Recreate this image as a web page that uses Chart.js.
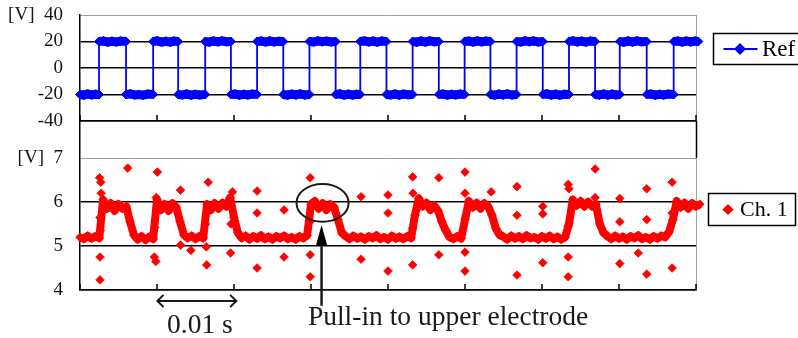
<!DOCTYPE html>
<html><head><meta charset="utf-8">
<script src="https://cdn.jsdelivr.net/npm/chart.js@4.4.1/dist/chart.umd.min.js"></script>
<style>
html,body{margin:0;padding:0;background:#fff;}
#wrap{position:relative;width:798px;height:338px;overflow:hidden;background:#fff;}
#c1{position:absolute;left:0;top:0;width:798px;height:140px;}
#c2{position:absolute;left:0;top:115px;width:798px;height:223px;}
</style></head><body>
<div id="wrap"><canvas id="c1" width="798" height="140"></canvas><canvas id="c2" width="798" height="223"></canvas></div>
<script>
// ---- data (time in ms) ----
const timeTicks = [0,10,20,30,40,50,60,70,80];
const refTicks = [-40,-20,0,20,40];
const ch1Ticks = [4,5,6,7];

const refT = [
 0,0.5,1.0,1.5,2.0,2.47,
 2.47,3.05,3.6,4.15,4.7,5.25,5.98,
 5.98,6.55,7.1,7.65,8.2,8.8,9.5,
 9.5,10.05,10.6,11.15,11.7,12.2,12.75,
 12.75,13.3,13.85,14.4,14.95,15.55,16.26,
 16.26,16.8,17.35,17.9,18.45,19.0,19.6,
 19.6,20.15,20.7,21.25,21.8,22.4,23.0,
 23.0,23.55,24.1,24.65,25.2,25.8,26.4,
 26.4,26.95,27.5,28.05,28.6,29.2,29.8,
 29.8,30.35,30.9,31.45,32.0,32.6,33.2,
 33.2,33.75,34.3,34.85,35.4,35.9,36.4,
 36.4,36.95,37.5,38.05,38.6,39.2,39.8,
 39.8,40.35,40.9,41.45,42.0,42.6,43.2,
 43.2,43.75,44.3,44.85,45.4,46.0,46.6,
 46.6,47.15,47.7,48.25,48.8,49.4,49.95,
 49.95,50.5,51.05,51.6,52.15,52.7,53.3,
 53.3,53.85,54.4,54.95,55.5,56.1,56.7,
 56.7,57.25,57.8,58.35,58.9,59.5,60.1,
 60.1,60.65,61.2,61.75,62.3,62.9,63.5,
 63.5,64.05,64.6,65.15,65.7,66.3,66.9,
 66.9,67.45,68.0,68.55,69.1,69.6,70.1,
 70.1,70.65,71.2,71.75,72.3,72.9,73.6,
 73.6,74.15,74.7,75.25,75.8,76.4,77.1,
 77.1,77.65,78.2,78.75,79.3,79.85,80.3,
 80.6
];
const refV = [
 -20,-20.5,-19.6,-20.3,-19.8,-20,
 20,20.4,19.5,20.2,19.6,20.3,20,
 -20,-19.5,-20.4,-20,-20.5,-19.7,-20,
 20,20.5,19.6,20.2,19.5,20.3,20,
 -20,-20.4,-19.6,-20.5,-19.8,-20.3,-20,
 20,19.5,20.4,19.7,20.5,19.8,20,
 -20,-19.6,-20.5,-19.8,-20.4,-19.7,-20,
 20,20.4,19.6,20.5,19.7,20.2,20,
 -20,-20.5,-19.7,-20.3,-19.5,-20.4,-20,
 20,19.6,20.5,19.8,20.3,19.6,20,
 -20,-19.5,-20.4,-19.7,-20.5,-19.8,-20,
 20,20.5,19.7,20.3,19.5,20.4,20,
 -20,-20.4,-19.6,-20.5,-19.7,-20.2,-20,
 20,19.5,20.4,19.6,20.5,19.8,20,
 -20,-19.6,-20.5,-19.8,-20.3,-19.6,-20,
 20,20.4,19.6,20.5,19.7,20.3,20,
 -20,-20.5,-19.7,-20.3,-19.5,-20.4,-20,
 20,19.6,20.5,19.8,20.4,19.6,20,
 -20,-19.5,-20.4,-19.7,-20.5,-19.8,-20,
 20,20.5,19.7,20.3,19.5,20.4,20,
 -20,-20.4,-19.6,-20.5,-19.7,-20.3,-20,
 20,19.5,20.4,19.6,20.5,19.8,20,
 -20,-19.6,-20.5,-19.8,-20.4,-19.7,-20,
 20,20.4,19.6,20.5,19.7,20.3,20,
 -20
];

// Ch. 1 continuous trace samples
const ch1BandT = [
 0,0.5,1,1.5,2,2.5,
 3,3.5,4,4.5,5,5.5,6,6.5,7,
 7.5,8,8.5,9,9.5,
 10,10.5,11,11.5,12,12.5,13,13.5,
 14,14.5,15,15.5,16,
 16.5,17,17.5,18,18.5,19,19.5,20,20.5,
 21,21.5,22,22.5,23,23.5,24,24.5,25,25.5,26,26.5,27,27.5,28,28.5,29,29.5,
 30,30.5,31,31.5,32,32.5,33,33.5,34,
 34.5,35,35.5,36,36.5,37,37.5,38,38.5,39,39.5,40,40.5,41,41.5,42,42.5,43,
 43.5,44,44.5,45,45.5,46,46.5,47,47.5,48,
 48.5,49,49.5,
 50,50.5,51,51.5,52,52.5,53,53.5,54,54.5,
 55,55.5,56,56.5,57,57.5,58,58.5,59,59.5,60,60.5,61,61.5,62,62.5,63,
 63.5,64,64.5,65,65.5,66,66.5,67,67.5,68,
 68.5,69,69.5,70,70.5,71,71.5,72,72.5,73,73.5,74,74.5,75,75.5,76,76.5,
 77,77.5,78,78.5,79,79.5,80,80.5
];
const ch1BandV = [
 5.2,5.16,5.23,5.17,5.22,5.18,
 6.05,5.85,5.97,5.8,5.95,5.85,5.9,5.55,5.25,
 5.15,5.22,5.14,5.21,5.16,
 6.05,5.82,5.95,5.8,5.97,5.88,5.55,5.25,
 5.18,5.23,5.16,5.22,5.18,
 5.95,5.82,5.97,5.85,5.98,5.9,6.1,5.65,5.3,
 5.18,5.23,5.15,5.22,5.17,5.24,5.16,5.21,5.15,5.22,5.18,5.23,5.16,5.2,5.15,5.22,5.18,5.24,
 5.95,6.02,5.85,5.97,5.82,5.95,5.88,5.6,5.3,
 5.22,5.16,5.23,5.17,5.21,5.15,5.22,5.18,5.24,5.16,5.2,5.15,5.23,5.17,5.21,5.16,5.22,5.18,
 5.7,6.08,5.9,5.98,5.82,5.92,5.8,5.55,5.35,5.2,
 5.16,5.22,5.17,
 5.6,6.02,5.88,5.98,5.85,5.97,5.9,5.7,5.4,5.25,
 5.21,5.15,5.23,5.17,5.22,5.16,5.24,5.18,5.2,5.15,5.22,5.17,5.23,5.16,5.21,5.15,5.2,
 5.5,6.05,5.92,6.02,5.9,6.0,5.9,5.95,5.5,5.3,
 5.22,5.16,5.23,5.17,5.21,5.15,5.22,5.18,5.24,5.16,5.2,5.15,5.22,5.17,5.23,5.2,5.32,
 5.6,6.02,5.88,5.98,5.85,5.97,5.9,5.95
];
// Ch. 1 isolated spike samples around the switching instants
const ch1SpikeT = [
 2.55,2.7,2.75,2.6,2.65,2.6,2.6,
 6.2,
 9.7,9.65,9.9,9.85,10.05,
 13.05,13.05,14.4,
 16.45,16.4,16.65,16.3,
 19.55,19.6,19.8,
 23.0,23.0,23.0,
 26.5,26.5,
 29.9,29.9,29.9,29.85,
 36.5,36.5,
 40.0,40.0,40.0,
 43.2,43.25,43.2,43.2,
 46.6,46.6,
 50.0,50.0,50.0,50.0,
 53.4,
 56.75,56.75,56.75,
 60.1,60.1,60.1,
 63.4,63.5,63.4,63.4,63.4,
 66.9,66.9,
 70.1,70.1,70.1,
 72.5,
 73.6,73.6,73.6,
 76.9,76.9,76.9
];
const ch1SpikeV = [
 6.55,6.45,6.2,5.65,5.35,4.75,4.23,
 6.77,
 5.42,4.75,6.1,4.65,6.68,
 6.27,5.02,4.9,
 4.57,4.98,6.45,5.5,
 4.84,5.5,6.23,
 6.25,5.75,4.5,
 5.82,4.75,
 6.55,4.8,4.3,5.55,
 6.12,4.7,
 6.16,5.75,4.43,
 6.57,6.2,5.4,4.57,
 6.55,4.8,
 6.68,6.2,4.86,4.43,
 6.23,
 6.35,5.7,4.34,
 5.9,5.73,4.62,
 6.4,6.3,5.45,4.75,4.3,
 6.75,6.1,
 6.08,5.55,4.6,
 4.84,
 6.3,5.6,4.36,
 6.45,5.75,4.5
];

// annotations (data units)
const ellipseNote = {t:31.5, v:5.98, dt:3.38, dv:0.43};
const pullArrow = {t:31.37, from:3.64, base:5.02, tip:5.48, halfT:0.71};
const spanArrow = {from:10.05, to:20.3, v:3.75, headT:0.8, headV:0.14};
const notes = [
  {text:'0.01 s', t:15.58, v:3.02, align:'center'},
  {text:'Pull-in to upper electrode', t:29.6, v:3.205, align:'left'}
];

const BLUE = '#0000ff', RED = '#ff0000', GRID = '#000', FRAME = '#a0a0a0';
const CLEAR = 'rgba(0,0,0,0)';
const SERIF = '"Liberation Serif", "Times New Roman", serif';

function pts(T, V){ return T.map((t,i)=>({x:t, y:V[i]})); }
// same samples, with a break (null) wherever the level switches sign
function plateauPts(T, V){
  const out = [];
  T.forEach((t,i)=>{
    if (i > 0 && Math.sign(V[i]) !== Math.sign(V[i-1])) out.push({x:t, y:null});
    out.push({x:t, y:V[i]});
  });
  return out;
}

function drawInwardTicks(c){
  const {ctx, chartArea:a, scales:{x}} = c;
  ctx.save();
  ctx.strokeStyle = '#000'; ctx.lineWidth = 1.5;
  timeTicks.forEach(v=>{
    const px = Math.round(x.getPixelForValue(v));
    ctx.beginPath(); ctx.moveTo(px, a.bottom); ctx.lineTo(px, a.bottom-6); ctx.stroke();
  });
  ctx.restore();
}

function drawLegendBox(ctx, box, ds, text, fontSize, withLine){
  ctx.save();
  ctx.strokeStyle = '#000'; ctx.lineWidth = 1.5;
  ctx.strokeRect(box.x, box.y, box.w, box.h);
  const cy = box.y + box.h/2;
  if (withLine){
    ctx.strokeStyle = ds.borderColor; ctx.lineWidth = 2;
    ctx.beginPath(); ctx.moveTo(box.x+10, cy); ctx.lineTo(box.x+44, cy); ctx.stroke();
  }
  ctx.fillStyle = ds.backgroundColor; ctx.strokeStyle = ds.borderColor;
  Chart.helpers.drawPoint(ctx, {pointStyle:'rectRot', radius:4.5, borderWidth:1}, box.mx, cy);
  ctx.fillStyle = '#000';
  ctx.font = fontSize + 'px ' + SERIF;
  ctx.textBaseline = 'middle'; ctx.textAlign = 'left';
  ctx.fillText(text, box.tx, cy + 1);
  ctx.restore();
}

const topPlugin = {
  id:'topDeco',
  beforeDatasetsDraw(c){
    const {ctx, chartArea:a} = c;
    ctx.save(); ctx.strokeStyle = FRAME; ctx.lineWidth = 1;
    const rx = Math.round(a.right)+0.5;
    ctx.beginPath(); ctx.moveTo(rx, a.top); ctx.lineTo(rx, a.bottom); ctx.stroke();
    ctx.restore();
    drawInwardTicks(c);
  },
  afterDraw(c){
    const ds = c.data.datasets[0];
    drawLegendBox(c.ctx, {x:713.5, y:33.5, w:120, h:31, mx:740, tx:762}, ds, 'Ref', 23, true);
  }
};

const botPlugin = {
  id:'botDeco',
  beforeDatasetsDraw(c){
    const {ctx, chartArea:a, scales:{y}} = c;
    const rx = Math.round(a.right)+0.5;
    const y7 = y.getPixelForValue(ch1Ticks[ch1Ticks.length-1]);
    ctx.save();
    ctx.lineWidth = 1.5; ctx.strokeStyle = '#000';
    ctx.beginPath(); ctx.moveTo(rx, a.top); ctx.lineTo(rx, y7); ctx.stroke();
    ctx.lineWidth = 1; ctx.strokeStyle = FRAME;
    ctx.beginPath(); ctx.moveTo(rx, y7); ctx.lineTo(rx, a.bottom); ctx.stroke();
    ctx.restore();
    drawInwardTicks(c);
  },
  afterDraw(c){
    const {ctx, scales:{x, y}} = c;
    ctx.save();
    ctx.strokeStyle = '#1a1a1a'; ctx.fillStyle = '#000';
    ctx.lineWidth = 2;
    const ex = x.getPixelForValue(ellipseNote.t), ey = y.getPixelForValue(ellipseNote.v);
    const erx = x.getPixelForValue(ellipseNote.t + ellipseNote.dt) - ex;
    const ery = ey - y.getPixelForValue(ellipseNote.v + ellipseNote.dv);
    ctx.beginPath(); ctx.ellipse(ex, ey, erx, ery, 0, 0, Math.PI*2); ctx.stroke();
    const ax = x.getPixelForValue(pullArrow.t);
    ctx.lineWidth = 2.5;
    ctx.beginPath(); ctx.moveTo(ax, y.getPixelForValue(pullArrow.from)); ctx.lineTo(ax, y.getPixelForValue(pullArrow.base)+1); ctx.stroke();
    const hw = x.getPixelForValue(pullArrow.t + pullArrow.halfT) - ax;
    ctx.beginPath();
    ctx.moveTo(ax, y.getPixelForValue(pullArrow.tip));
    ctx.lineTo(ax - hw, y.getPixelForValue(pullArrow.base));
    ctx.lineTo(ax + hw, y.getPixelForValue(pullArrow.base));
    ctx.closePath(); ctx.fill();
    const sy = y.getPixelForValue(spanArrow.v);
    const sx1 = x.getPixelForValue(spanArrow.from), sx2 = x.getPixelForValue(spanArrow.to);
    const hx = x.getPixelForValue(spanArrow.from + spanArrow.headT) - sx1;
    const hy = sy - y.getPixelForValue(spanArrow.v + spanArrow.headV);
    ctx.lineWidth = 2;
    ctx.beginPath(); ctx.moveTo(sx1, sy); ctx.lineTo(sx2, sy); ctx.stroke();
    ctx.beginPath(); ctx.moveTo(sx1+hx, sy-hy); ctx.lineTo(sx1, sy); ctx.lineTo(sx1+hx, sy+hy); ctx.stroke();
    ctx.beginPath(); ctx.moveTo(sx2-hx, sy-hy); ctx.lineTo(sx2, sy); ctx.lineTo(sx2-hx, sy+hy); ctx.stroke();
    ctx.fillStyle = '#1a1a1a';
    ctx.font = '27.5px ' + SERIF; ctx.textBaseline = 'alphabetic';
    notes.forEach(n=>{
      ctx.textAlign = n.align;
      ctx.fillText(n.text, x.getPixelForValue(n.t), y.getPixelForValue(n.v));
    });
    ctx.restore();
    const ds = c.data.datasets[0];
    drawLegendBox(ctx, {x:708.5, y:78.5, w:87, h:32, mx:728, tx:740}, ds, 'Ch. 1', 22, false);
  }
};

function yAxis(min, max, ticksArr, topLabel){
  return {
    type:'linear', min, max,
    afterBuildTicks(s){ s.ticks = ticksArr.map(v=>({value:v})); },
    afterFit(s){ s.width = 80; s.paddingTop = 0; s.paddingBottom = 0; },
    ticks:{
      callback:(v)=> v === topLabel ? '[V]  ' + v : String(v),
      font:{family:SERIF, size:19}, color:'#151515', padding:17
    },
    grid:{ color:(ctx)=> (ctx.tick && ctx.tick.value === topLabel) ? FRAME : GRID,
           lineWidth:(ctx)=> (ctx.tick && ctx.tick.value === topLabel) ? 1 : 1.5,
           drawTicks:false },
    border:{ color:'#000', width:1.5 }
  };
}
function xAxis(){
  return {
    type:'linear', min:timeTicks[0], max:timeTicks[timeTicks.length-1],
    afterFit(s){ s.height = 0; s.paddingLeft = 0; s.paddingRight = 0; },
    ticks:{ display:false },
    grid:{ drawOnChartArea:false, drawTicks:false },
    border:{ color:'#000', width:1.5 }
  };
}

new Chart(document.getElementById('c1'), {
  type:'scatter',
  data:{ datasets:[
    { // Ref trace: thin connecting line with diamond markers
      label:'Ref', data:pts(refT, refV), showLine:true,
      borderColor:BLUE, backgroundColor:BLUE, borderWidth:1.8,
      pointStyle:'rectRot', pointBorderWidth:1,
      pointRadius:(ctx)=> ctx.dataIndex === refT.length-1 ? 0 : 4.5,
      tension:0, clip:false
    },
    { // the same Ref samples as the dense band of overlapping markers on each level
      label:'Ref band', data:plateauPts(refT, refV), showLine:true, spanGaps:false,
      borderColor:BLUE, backgroundColor:BLUE, borderWidth:9, borderCapStyle:'butt',
      pointRadius:0, tension:0, clip:false
    }
  ]},
  options:{
    responsive:false, animation:false, events:[],
    layout:{ padding:{ left:0, right:102, top:15, bottom:19 } },
    plugins:{ legend:{display:false}, tooltip:{enabled:false} },
    scales:{ x:xAxis(), y:yAxis(-40, 40, refTicks, 40) }
  },
  plugins:[topPlugin]
});

const bandCount = ch1BandT.length;
new Chart(document.getElementById('c2'), {
  type:'scatter',
  data:{ datasets:[{
    label:'Ch. 1',
    data:pts(ch1BandT.concat(ch1SpikeT), ch1BandV.concat(ch1SpikeV)),
    showLine:true, borderWidth:8, borderJoinStyle:'round',
    borderColor:RED, backgroundColor:RED,
    segment:{ borderColor:(s)=> s.p1DataIndex >= bandCount ? CLEAR : RED },
    pointStyle:'rectRot', pointBorderWidth:0.8, pointRadius:4.3,
    tension:0, clip:false
  }]},
  options:{
    responsive:false, animation:false, events:[],
    layout:{ padding:{ left:0, right:102, top:6, bottom:48 } },
    plugins:{ legend:{display:false}, tooltip:{enabled:false} },
    scales:{ x:xAxis(), y:yAxis(4, 4 + 169/44, ch1Ticks, 7) }
  },
  plugins:[botPlugin]
});
</script>
</body></html>
